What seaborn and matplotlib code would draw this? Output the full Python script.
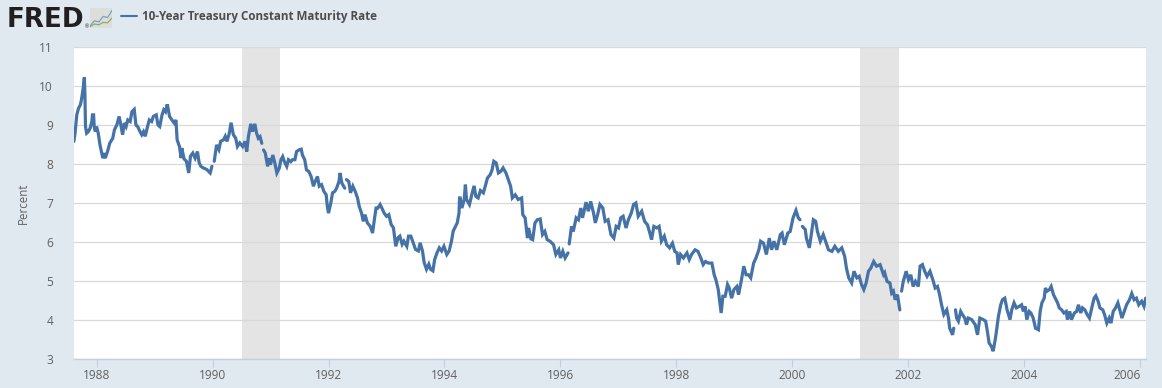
from matplotlib import pyplot as plt
import numpy as np
import pandas as pd
import seaborn as sns

nan = np.nan

# decimal year / percent, nan = missing stretch in the series
years = [1987.61, 1987.63, 1987.66, 1987.69, 1987.72, 1987.74, 1987.77, 1987.79, 1987.80, 1987.81, 1987.83, 1987.86, 1987.89, 1987.92, 1987.93, 1987.95, 1987.96, 1987.98,
	1988.00, 1988.03, 1988.06, 1988.09, 1988.11, 1988.13, 1988.15, 1988.19, 1988.23, 1988.28, 1988.31, 1988.35, 1988.39, 1988.42, 1988.45, 1988.48, 1988.51, 1988.54, 1988.58, 1988.61, 1988.65, 1988.68, 1988.71, 1988.75, 1988.78, 1988.81, 1988.84, 1988.88, 1988.91, 1988.95, 1988.98,
	1989.03, 1989.06, 1989.09, 1989.13, 1989.16, 1989.19, 1989.22, 1989.26, 1989.30, 1989.34, 1989.37, 1989.39, 1989.43, 1989.46, 1989.47, 1989.51, 1989.55, 1989.59, 1989.62, 1989.66, 1989.70, 1989.74, 1989.77, 1989.80, 1989.84, 1989.90, 1989.96, 1989.99,
	1990.01, 1990.03, 1990.05, 1990.07, 1990.11, 1990.14, 1990.19, 1990.22, 1990.25, 1990.29, 1990.32, 1990.36, 1990.40, 1990.43, 1990.47, 1990.52, 1990.56, 1990.59, 1990.62, 1990.66, 1990.69, 1990.73, 1990.76, 1990.79, 1990.82, 1990.85, 1990.87, 1990.88, 1990.91, 1990.95, 1990.98,
	1991.00, 1991.04, 1991.07, 1991.11, 1991.15, 1991.18, 1991.21, 1991.24, 1991.28, 1991.31, 1991.35, 1991.38, 1991.42, 1991.45, 1991.49, 1991.53, 1991.55, 1991.59, 1991.62, 1991.66, 1991.70, 1991.74, 1991.77, 1991.81, 1991.84, 1991.88, 1991.92, 1991.96, 1991.98,
	1992.00, 1992.04, 1992.07, 1992.11, 1992.14, 1992.18, 1992.20, 1992.23, 1992.28, 1992.29, 1992.31, 1992.35, 1992.38, 1992.42, 1992.46, 1992.50, 1992.53, 1992.57, 1992.60, 1992.63, 1992.67, 1992.72, 1992.76, 1992.79, 1992.82, 1992.85, 1992.89, 1992.92, 1992.96,
	1993.00, 1993.04, 1993.08, 1993.12, 1993.16, 1993.20, 1993.23, 1993.27, 1993.30, 1993.35, 1993.38, 1993.42, 1993.46, 1993.50, 1993.55, 1993.58, 1993.62, 1993.65, 1993.69, 1993.73, 1993.76, 1993.80, 1993.83, 1993.87, 1993.91, 1993.95, 1993.99,
	1994.04, 1994.08, 1994.12, 1994.15, 1994.19, 1994.22, 1994.25, 1994.26, 1994.27, 1994.30, 1994.34, 1994.36, 1994.38, 1994.43, 1994.47, 1994.51, 1994.54, 1994.58, 1994.62, 1994.67, 1994.71, 1994.74, 1994.79, 1994.82, 1994.85, 1994.89, 1994.93, 1994.97,
	1995.01, 1995.06, 1995.10, 1995.14, 1995.17, 1995.22, 1995.27, 1995.33, 1995.35, 1995.39, 1995.43, 1995.45, 1995.49, 1995.52, 1995.56, 1995.60, 1995.65, 1995.69, 1995.73, 1995.77, 1995.82, 1995.88, 1995.92, 1995.97,
	1996.00, 1996.04, 1996.08, 1996.13, 1996.14, 1996.15, 1996.19, 1996.22, 1996.27, 1996.31, 1996.35, 1996.38, 1996.44, 1996.48, 1996.52, 1996.57, 1996.60, 1996.64, 1996.68, 1996.73, 1996.77, 1996.82, 1996.87, 1996.92, 1996.96,
	1997.00, 1997.04, 1997.08, 1997.13, 1997.17, 1997.22, 1997.26, 1997.30, 1997.34, 1997.40, 1997.45, 1997.50, 1997.54, 1997.57, 1997.61, 1997.66, 1997.70, 1997.74, 1997.79, 1997.83, 1997.88, 1997.93, 1997.97,
	1998.01, 1998.03, 1998.07, 1998.12, 1998.18, 1998.22, 1998.26, 1998.32, 1998.37, 1998.42, 1998.46, 1998.50, 1998.55, 1998.61, 1998.65, 1998.68, 1998.72, 1998.77, 1998.80, 1998.84, 1998.88, 1998.91, 1998.95, 1998.99,
	1999.04, 1999.07, 1999.12, 1999.16, 1999.20, 1999.24, 1999.28, 1999.33, 1999.37, 1999.42, 1999.45, 1999.50, 1999.55, 1999.60, 1999.64, 1999.68, 1999.73, 1999.79, 1999.82, 1999.86, 1999.92, 1999.96,
	2000.01, 2000.06, 2000.10, 2000.13, 2000.14, 2000.17, 2000.22, 2000.24, 2000.29, 2000.32, 2000.36, 2000.40, 2000.43, 2000.48, 2000.53, 2000.57, 2000.62, 2000.68, 2000.73, 2000.79, 2000.85, 2000.90, 2000.93, 2000.97,
	2001.02, 2001.06, 2001.11, 2001.15, 2001.19, 2001.23, 2001.27, 2001.31, 2001.35, 2001.40, 2001.45, 2001.51, 2001.57, 2001.59, 2001.63, 2001.68, 2001.71, 2001.74, 2001.77, 2001.81, 2001.85, 2001.86, 2001.88, 2001.91, 2001.96,
	2002.00, 2002.04, 2002.08, 2002.12, 2002.17, 2002.20, 2002.24, 2002.28, 2002.32, 2002.37, 2002.42, 2002.46, 2002.50, 2002.53, 2002.57, 2002.61, 2002.66, 2002.69, 2002.71, 2002.76, 2002.78, 2002.80, 2002.81, 2002.83, 2002.86, 2002.90, 2002.93, 2002.97,
	2003.00, 2003.03, 2003.09, 2003.15, 2003.19, 2003.23, 2003.29, 2003.33, 2003.36, 2003.39, 2003.43, 2003.46, 2003.50, 2003.52, 2003.55, 2003.59, 2003.62, 2003.66, 2003.70, 2003.75, 2003.78, 2003.82, 2003.86, 2003.91, 2003.95, 2003.98,
	2004.01, 2004.04, 2004.08, 2004.11, 2004.15, 2004.19, 2004.24, 2004.27, 2004.30, 2004.34, 2004.36, 2004.39, 2004.43, 2004.46, 2004.50, 2004.53, 2004.57, 2004.60, 2004.64, 2004.68, 2004.72, 2004.74, 2004.78, 2004.81, 2004.86, 2004.90, 2004.93, 2004.97,
	2005.00, 2005.04, 2005.08, 2005.12, 2005.16, 2005.20, 2005.23, 2005.27, 2005.30, 2005.35, 2005.38, 2005.42, 2005.46, 2005.49, 2005.53, 2005.57, 2005.61, 2005.65, 2005.68, 2005.72, 2005.76, 2005.81, 2005.85, 2005.89, 2005.93, 2005.97,
	2006.02, 2006.06, 2006.09]

rates = [8.58, 8.79, 9.26, 9.43, 9.51, 9.64, 9.94, 10.22, 9.81, 8.96, 8.79, 8.83, 8.92, 9.09, 9.26, 9.26, 8.96, 8.83,
	8.96, 8.79, 8.49, 8.28, 8.15, 8.28, 8.15, 8.32, 8.54, 8.66, 8.88, 9.00, 9.22, 9.00, 8.75, 9.05, 8.96, 9.13, 9.09, 9.34, 9.40, 9.00, 8.96, 8.83, 8.75, 8.83, 8.71, 8.96, 9.13, 9.09, 9.22,
	9.26, 9.00, 8.96, 9.26, 9.39, 9.34, 9.53, 9.22, 9.13, 9.05, 9.13, 8.62, 8.45, 8.15, 8.41, 8.13, 8.07, 7.77, 8.20, 8.28, 8.15, 8.32, 8.03, 7.94, 7.90, 7.86, 7.77, 7.94,
	nan, 8.07, 8.28, 8.49, 8.37, 8.58, 8.62, 8.71, 8.58, 8.79, 9.06, 8.75, 8.66, 8.45, 8.54, 8.45, 8.58, 8.32, 8.71, 9.03, 8.83, 9.03, 8.79, 8.66, 8.70, 8.53, nan, 8.36, 8.28, 7.94, 8.15,
	7.98, 8.23, 8.06, 7.77, 7.89, 8.11, 8.19, 8.06, 7.94, 8.11, 8.06, 8.11, 8.11, 8.32, 8.36, 8.38, 8.23, 8.11, 7.85, 7.81, 7.68, 7.43, 7.55, 7.68, 7.43, 7.47, 7.30, 7.21, 6.91,
	6.74, 7.00, 7.26, 7.30, 7.38, 7.55, 7.77, 7.51, 7.38, nan, 7.60, 7.55, 7.26, 7.43, 7.30, 7.13, 6.91, 6.74, 6.53, 6.70, 6.49, 6.40, 6.23, 6.57, 6.87, 6.87, 6.96, 6.87, 6.74,
	6.66, 6.70, 6.45, 6.36, 5.89, 6.11, 6.15, 5.94, 6.02, 5.89, 6.15, 6.15, 5.98, 5.81, 5.77, 5.98, 5.77, 5.47, 5.30, 5.43, 5.30, 5.26, 5.55, 5.72, 5.85, 5.77, 5.89,
	5.68, 5.77, 6.02, 6.28, 6.40, 6.49, 6.74, 7.13, 7.13, 6.87, 7.09, 7.47, 7.09, 6.96, 7.21, 7.44, 7.17, 7.13, 7.32, 7.26, 7.47, 7.64, 7.73, 7.85, 8.07, 8.03, 7.77, 7.81,
	7.90, 7.77, 7.60, 7.43, 7.13, 7.21, 7.09, 7.13, 6.70, 6.62, 6.10, 6.36, 6.08, 6.06, 6.49, 6.57, 6.59, 6.19, 6.27, 6.06, 6.02, 5.93, 5.68, 5.80,
	5.59, 5.76, 5.59, 5.72, nan, 5.95, 6.40, 6.27, 6.62, 6.57, 6.87, 6.62, 7.02, 6.79, 7.04, 6.74, 6.49, 6.70, 6.96, 6.87, 6.53, 6.57, 6.19, 6.10, 6.40,
	6.36, 6.62, 6.66, 6.36, 6.57, 6.74, 6.96, 7.00, 6.66, 6.79, 6.53, 6.44, 6.23, 6.06, 6.40, 6.36, 6.40, 6.02, 6.15, 5.93, 5.85, 5.97, 5.76,
	5.72, 5.42, 5.68, 5.59, 5.72, 5.55, 5.68, 5.80, 5.76, 5.59, 5.42, 5.50, 5.46, 5.46, 5.16, 5.03, 4.78, 4.18, 4.61, 4.61, 4.91, 4.82, 4.56, 4.78,
	4.86, 4.65, 5.03, 5.38, 5.16, 5.16, 5.08, 5.46, 5.59, 5.80, 6.02, 5.97, 5.68, 6.10, 5.80, 6.02, 5.80, 6.19, 6.23, 5.93, 6.23, 6.27,
	6.62, 6.81, 6.62, 6.57, nan, 6.40, 6.32, 6.10, 5.85, 6.15, 6.57, 6.53, 6.27, 6.02, 6.19, 6.02, 5.80, 5.76, 5.89, 5.76, 5.85, 5.63, 5.33, 5.08,
	4.95, 5.25, 5.08, 5.12, 4.91, 4.78, 4.95, 5.25, 5.33, 5.50, 5.38, 5.42, 5.16, 5.21, 4.99, 4.95, 4.69, 4.74, 4.52, 4.65, 4.26, nan, 4.74, 4.99, 5.25,
	5.03, 5.16, 4.86, 4.99, 4.86, 5.38, 5.42, 5.25, 5.12, 5.25, 5.03, 4.82, 4.86, 4.69, 4.39, 4.14, 4.26, 4.05, 3.79, 3.62, 3.79, nan, 4.26, 4.05, 3.97, 4.22, 4.14, 4.05,
	3.88, 4.05, 4.01, 3.88, 3.62, 4.05, 4.01, 3.97, 3.71, 3.41, 3.32, 3.20, 3.54, 3.75, 4.09, 4.39, 4.52, 4.56, 4.26, 4.01, 4.26, 4.44, 4.31, 4.35, 4.39, 4.22,
	4.35, 4.01, 4.22, 4.18, 4.05, 3.79, 3.75, 4.22, 4.44, 4.56, 4.82, 4.74, 4.78, 4.86, 4.65, 4.56, 4.44, 4.31, 4.26, 4.18, 4.22, 4.01, 4.22, 4.01, 4.18, 4.22, 4.39, 4.18,
	4.31, 4.26, 4.14, 4.05, 4.31, 4.56, 4.62, 4.48, 4.31, 4.26, 4.14, 3.92, 4.05, 3.92, 4.22, 4.31, 4.44, 4.22, 4.05, 4.22, 4.39, 4.52, 4.68, 4.52, 4.56, 4.39,
	4.48, 4.35, 4.56]

recessions = [(1990.50, 1991.16), (2001.17, 2001.83)]
year_ticks = [1988, 1990, 1992, 1994, 1996, 1998, 2000, 2002, 2004, 2006]
rate_ticks = [3, 4, 5, 6, 7, 8, 9, 10, 11]
series_name = "10-Year Treasury Constant Maturity Rate"

# little chart tile next to the logo
icon_blue = [0.5, 1.8, 1.5, 2.9, 2.6, 4.4]
icon_green = [0.3, 1.0, 0.8, 1.4, 1.3, 2.5]

W, H = 1162, 388
BG = "#e1e9f0"
LINE = "#4572a7"
TXT = "#606060"

sns.set_theme(style="white", rc={"font.family": ["Open Sans", "DejaVu Sans"]})

fig = plt.figure(figsize=(W/100, H/100), dpi=100, facecolor=BG)
ax = fig.add_axes([74/W, 1-359/H, (1146-74)/W, (359-47)/H], facecolor="white")

for start, end in recessions:
	ax.axvspan(start, end, color="#e4e4e4", lw=0, zorder=0.5)

# seaborn drops nan, so split into pieces to keep the holes in the line
data = pd.DataFrame({"year": years, "rate": rates})
data["piece"] = data["rate"].isna().cumsum()
data = data.dropna()
sns.lineplot(data=data, x="year", y="rate", units="piece", estimator=None, sort=False, color=LINE, lw=2.3,
	solid_joinstyle="miter", label=series_name, ax=ax, zorder=3)

ax.set_xlim(1987.612, 2006.095)
ax.set_ylim(3, 11)
ax.set_xticks(year_ticks)
ax.set_yticks(rate_ticks)
ax.set_xlabel("")
ax.set_ylabel("Percent", fontsize=8.3, color=TXT, labelpad=7)
ax.tick_params(axis="x", length=6, width=0.8, color="#c0d0e0", labelsize=8.6, labelcolor=TXT, pad=1, bottom=True)
ax.tick_params(axis="y", length=0, labelsize=8.6, labelcolor=TXT, pad=15)
ax.grid(axis="y", color="#d8d8d8", lw=0.9)
ax.set_axisbelow(True)
for side in ["left", "right", "top"]:
	ax.spines[side].set_visible(False)
ax.spines["bottom"].set_color("#c0d0e0")
ax.spines["bottom"].set_linewidth(1)

# last label is pulled back so it stays inside the plot width
ax.get_xticklabels()[-1].set_ha("right")
ax.get_xticklabels()[-1].set_x(2006.09)

handles, labels = ax.get_legend_handles_labels()
leg = ax.legend(handles[:1], labels[:1], loc="center left", bbox_to_anchor=(121/W, 1-16.5/H), bbox_transform=fig.transFigure, frameon=False,
	handlelength=1.38, handletextpad=0.42, borderpad=0, borderaxespad=0, prop={"family": "Open Sans", "weight": "bold", "size": 8.35})
leg.get_texts()[0].set_color("#4d4d4d")
leg.get_lines()[0].set_linewidth(1.5)

# logo
fig.text(7/W, 1-27/H, "FRED", fontsize=18.8, fontweight="bold", family="DejaVu Sans", color="#231f20", ha="left", va="baseline")
fig.text(85/W, 1-28/H, "®", fontsize=3.5, color="#231f20", ha="left", va="baseline")
icon = fig.add_axes([90/W, 1-28/H, 22/W, 20/H], facecolor="#dcdedc")
icon.plot(icon_blue, color="#7f9fbf", lw=0.9)
icon.plot(icon_green, color="#8fae5c", lw=0.9)
icon.set_xlim(0, 5)
icon.set_ylim(0, 5)
icon.set_xticks([])
icon.set_yticks([])
for side in icon.spines:
	icon.spines[side].set_visible(False)

fig.savefig("out.png", dpi=100, facecolor=BG)
plt.close()
